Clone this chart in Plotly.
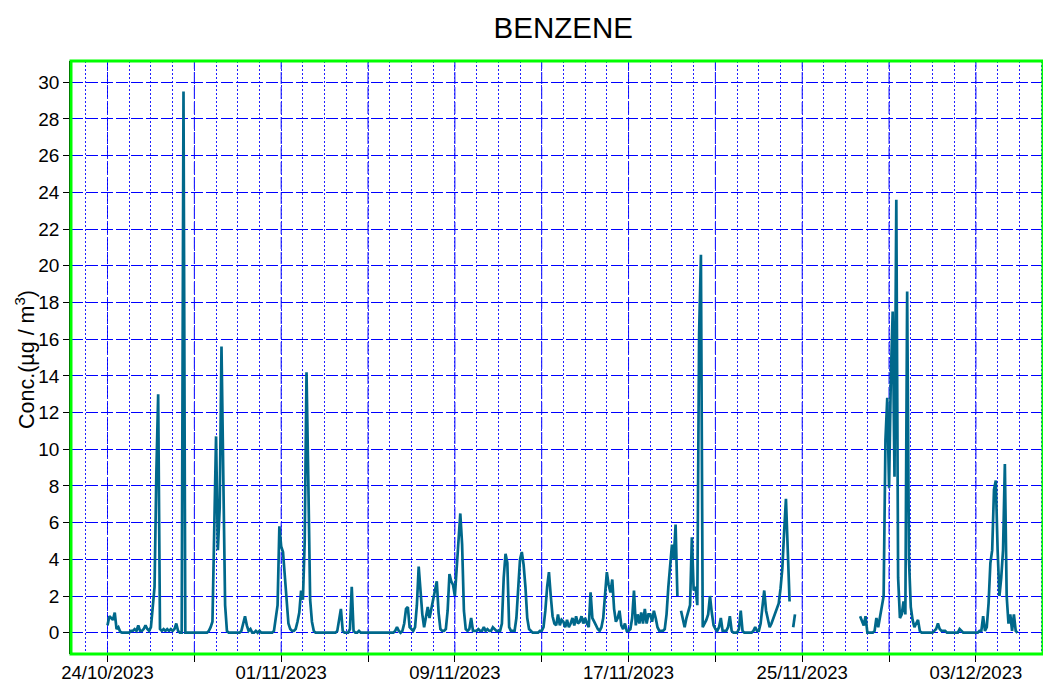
import pandas as pd
import plotly.graph_objects as go

# 2-hourly benzene concentrations (µg/m³), 12 values per day
oct24 = [0.4, 0.9, 0.8, 0.7, 1.1, 0.2, 0.3, 0.05, 0, 0, 0, 0]
oct25 = [0, 0.1, 0.1, 0.2, 0.1, 0.4, 0.1, 0.1, 0.2, 0.4, 0.2, 0.1]
oct26 = [0.3, 1.4, 2.5, 8.7, 13.0, 0.2, 0.1, 0.2, 0.1, 0.2, 0.1, 0.2]
oct27 = [0.1, 0.2, 0.5, 0.1, 0, 0, 29.5, 0, 0, 0, 0, 0]
oct28 = [0, 0, 0, 0, 0, 0, 0, 0, 0.1, 0.3, 0.6, 5.5]
oct29 = [10.7, 4.5, 6.8, 15.6, 9.0, 1.5, 0.1, 0, 0, 0, 0, 0]
oct30 = [0, 0, 0.1, 0.5, 0.9, 0.4, 0.1, 0.2, 0, 0, 0.1, 0]
oct31 = [0.1, 0, 0, 0, 0, 0, 0, 0, 0.1, 0.8, 1.5, 5.8]
nov01 = [4.7, 4.4, 3.0, 1.5, 0.5, 0.2, 0.1, 0.1, 0.2, 0.6, 1.1, 2.3]
nov02 = [1.8, 5.0, 14.2, 8.2, 1.8, 0.6, 0.1, 0, 0, 0, 0, 0]
nov03 = [0, 0, 0, 0, 0, 0, 0, 0.1, 0.7, 1.3, 0.1, 0]
nov04 = [0, 0, 0.2, 2.5, 0.1, 0, 0, 0.1, 0, 0, 0, 0]
nov05 = [0, 0, 0, 0, 0, 0, 0, 0, 0, 0, 0, 0]
nov06 = [0, 0, 0, 0.1, 0.3, 0.1, 0, 0.1, 0.5, 1.3, 1.4, 0.3]
nov07 = [0.2, 0.1, 0.3, 1.5, 3.6, 2.0, 1.0, 0.3, 0.8, 1.4, 0.8, 1.3]
nov08 = [1.7, 2.1, 2.8, 1.1, 0.2, 0.1, 0.1, 0.2, 1.2, 3.2, 2.8, 2.6]
nov09 = [2.0, 3.5, 5.0, 6.5, 4.8, 1.2, 0.2, 0.1, 0.2, 0.8, 0.1, 0.1]
nov10 = [0.1, 0.2, 0.1, 0.1, 0.3, 0.1, 0.2, 0.1, 0.1, 0.3, 0.2, 0.1]
nov11 = [0.1, 0.1, 0.5, 3.0, 4.3, 3.8, 0.3, 0.1, 0.1, 0.1, 0.8, 2.5]
nov12 = [4.0, 4.4, 3.7, 2.5, 0.8, 0.2, 0.1, 0, 0, 0, 0, 0.1]
nov13 = [0.1, 0.3, 1.2, 2.5, 3.3, 2.0, 0.9, 0.5, 0.4, 1.0, 0.4, 0.7]
nov14 = [0.6, 0.3, 0.7, 0.3, 0.5, 0.8, 0.4, 0.9, 0.5, 0.6, 0.9, 0.5]
nov15 = [0.8, 0.5, 0.3, 2.2, 0.8, 0.6, 0.4, 0.2, 0.1, 0.3, 0.8, 2.0]
nov16 = [3.3, 2.6, 2.2, 2.9, 1.3, 0.6, 0.8, 1.2, 0.4, 0.2, 0.5, 0.1]
nov17 = [0.1, 0.2, 0.8, 2.3, 0.4, 1.0, 0.5, 1.1, 0.5, 1.3, 0.5, 1.0]
nov18 = [1.0, 0.6, 1.2, 0.8, 0.3, 0.1, 0.1, 0.1, 0.2, 1.0, 2.5, 3.8]
nov19 = [4.8, 4.0, 5.9, 2.0, None, 1.2, 0.8, 0.3, 0.8, 1.2, 1.5, 5.2]
nov20 = [2.3, 2.5, 1.5, 16.3, 20.6, 0.3, 0.5, 0.7, 1.0, 2.0, 1.1, 0.4]
nov21 = [0.2, 0.1, 0.3, 0.8, 0.1, 0.1, 0.1, 0.3, 0.9, 0.1, 0, 0]
nov22 = [0, 0.2, 1.2, 0.1, 0, 0, 0, 0, 0, 0.1, 0.3, 0.1]
nov23 = [0.1, 0.5, 1.3, 2.3, 1.2, 0.8, 0.3, 0.5, 0.8, 1.0, 1.3, 1.6]
nov24 = [2.4, 3.5, 5.5, 7.3, 4.5, 1.7, None, 0.3, 1.0, None, None, None]
nov25 = [None] * 12
nov26 = [None] * 12
nov27 = [None, None, None, None, None, None, None, None, 0.9, 0.6, 0.4, 0.9]
nov28 = [0, 0, 0, 0, 0.1, 0.8, 0.3, 0.8, 1.4, 2.0, 10.5, 12.8]
nov29 = [7.9, 14.0, 17.5, 8.5, 23.6, 3.0, 0.8, 1.0, 1.7, 1.0, 18.6, 4.0]
nov30 = [1.4, 0.7, 0.3, 0.5, 0.7, 0.1, 0, 0, 0, 0, 0, 0]
dec01 = [0, 0.1, 0.2, 0.5, 0.2, 0.1, 0.1, 0.1, 0, 0, 0, 0]
dec02 = [0, 0, 0, 0.2, 0.1, 0, 0, 0, 0, 0, 0, 0]
dec03 = [0, 0, 0.1, 0.1, 0.9, 0.1, 0.3, 1.6, 3.8, 4.5, 7.8, 8.3]
dec04 = [4.5, 2.0, 3.0, 4.5, 9.2, 2.0, 0.5, 1.0, 0.1, 1.0, 0.1, 0.0]

conc = (oct24 + oct25 + oct26 + oct27 + oct28 + oct29 + oct30 + oct31 +
        nov01 + nov02 + nov03 + nov04 + nov05 + nov06 + nov07 + nov08 +
        nov09 + nov10 + nov11 + nov12 + nov13 + nov14 + nov15 + nov16 +
        nov17 + nov18 + nov19 + nov20 + nov21 + nov22 + nov23 + nov24 +
        nov25 + nov26 + nov27 + nov28 + nov29 + nov30 +
        dec01 + dec02 + dec03 + dec04)

times = pd.date_range("2023-10-24 00:00", periods=len(conc), freq="2h")

tick_dates = ["2023-10-24", "2023-10-28", "2023-11-01", "2023-11-05",
              "2023-11-09", "2023-11-13", "2023-11-17", "2023-11-21",
              "2023-11-25", "2023-11-29", "2023-12-03"]
tick_labels = ["24/10/2023", "", "01/11/2023", "", "09/11/2023", "",
               "17/11/2023", "", "25/11/2023", "", "03/12/2023"]
y_ticks = list(range(0, 31, 2))

x_range = ["2023-10-22 07:38", "2023-12-06 02:10"]
font_family = "Liberation Sans, Arial, sans-serif"

fig = go.Figure()
fig.add_trace(go.Scatter(
    x=times, y=conc, mode="lines",
    line=dict(color="#00688B", width=2.7),
    connectgaps=False, showlegend=False, xaxis="x", yaxis="y",
))
# helper (invisible) trace so the labelled 4-day axis is drawn
fig.add_trace(go.Scatter(
    x=[times[0]], y=[None], mode="lines", showlegend=False,
    hoverinfo="skip", xaxis="x2", yaxis="y",
))

# dashed vertical guide lines at the 4-day ticks
grid_shapes = [
    dict(type="line", xref="x", yref="paper", x0=d, x1=d, y0=0, y1=1,
         line=dict(color="#0000FF", width=1, dash="12px,3px"), layer="below")
    for d in tick_dates
]
border = dict(type="rect", xref="paper", yref="paper", x0=0, x1=1,
              y0=0, y1=1, line=dict(color="#00FF00", width=3), layer="above")

fig.update_layout(
    width=1043, height=684,
    margin=dict(l=71, r=0, t=61, b=30, autoexpand=False),
    paper_bgcolor="white", plot_bgcolor="white",
    font=dict(family=font_family, color="black", size=18),
    title=dict(text="BENZENE", x=0.54, xref="container", xanchor="center",
               y=1 - 28 / 684, yref="container", yanchor="middle",
               font=dict(size=29.5, color="black")),
    xaxis=dict(
        type="date", range=x_range, automargin=False,
        dtick=86400000, tick0="2023-10-24",
        showticklabels=False, ticks="",
        showgrid=True, gridcolor="#2020FF", gridwidth=1, griddash="2px,2px",
        showline=False, zeroline=False,
    ),
    xaxis2=dict(
        type="date", range=x_range, automargin=False,
        overlaying="x", side="bottom", anchor="y",
        tickmode="array", tickvals=tick_dates, ticktext=tick_labels,
        ticks="outside", ticklen=7, tickcolor="black", tickwidth=1,
        tickfont=dict(size=18.5), ticklabelstandoff=-5,
        showgrid=False, showline=False, zeroline=False,
    ),
    yaxis=dict(
        range=[-1.16, 31.16], automargin=False,
        tickmode="array", tickvals=y_ticks,
        ticks="outside", ticklen=6, tickcolor="black", tickwidth=1,
        tickfont=dict(size=19),
        showgrid=True, gridcolor="#0000FF", gridwidth=1, griddash="12px,3px",
        zeroline=False,
        showline=True, linecolor="black", linewidth=1.5,
    ),
    annotations=[dict(
        text="Conc.(µg / m<sup>3</sup>)", textangle=-90,
        xref="paper", yref="paper", x=(25 - 71) / 972, y=(654 - 360) / 593,
        xanchor="center", yanchor="middle", showarrow=False,
        font=dict(size=21.5, color="black"),
    )],
    shapes=grid_shapes + [border],
)

fig.write_html(
    "out.html",
    config={"displayModeBar": False},
    post_script=("document.body.style.margin='0';"
                 "document.body.style.padding='0';"
                 "document.documentElement.style.overflow='hidden';"),
)
